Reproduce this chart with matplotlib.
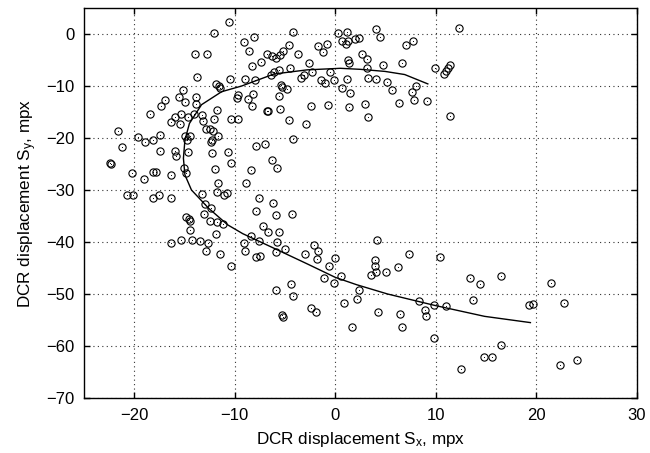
import numpy as np
import matplotlib
matplotlib.use("Agg")
import matplotlib.pyplot as plt

plt.rcParams['font.family'] = ['Liberation Sans', 'DejaVu Sans']

# measured DCR displacements (mpx)
pts = [
    (-10.6, 2.3), (-12.1, 0.2), (-13.9, -3.8), (-12.8, -3.8), (-13.7, -8.2), (-10.5, -8.6),
    (-11.9, -9.6), (-11.6, -10.0), (-11.5, -10.3),
    (-15.1, -10.7), (-15.5, -12.1), (-14.9, -13.0), (-13.8, -12.1), (-13.8, -13.4),
    (-16.9, -12.6), (-17.3, -13.8), (-18.4, -15.4), (-15.9, -16.0), (-16.3, -17.0), (-15.4, -17.4),
    (-15.3, -15.3), (-14.6, -15.9), (-14.0, -15.3), (-13.3, -15.6), (-13.2, -16.7),
    (-11.8, -14.6), (-12.1, -16.4), (-10.4, -16.3), (-9.7, -16.3),
    (-12.9, -18.3), (-12.5, -18.3), (-12.2, -18.6), (-12.3, -20.4), (-12.4, -20.8), (-11.7, -19.6),
    (-14.9, -19.7), (-14.7, -20.3), (-14.4, -19.6),
    (-21.6, -18.6), (-19.6, -19.9), (-18.9, -20.7), (-18.1, -20.4), (-17.4, -19.4),
    (-21.2, -21.7), (-17.4, -22.5), (-15.9, -22.5), (-15.8, -23.5), (-14.6, -22.6), (-12.3, -22.9),
    (-10.7, -22.6), (-10.4, -24.8),
    (-22.3, -25.0), (-22.4, -24.8), (-20.2, -26.7), (-18.1, -26.5), (-17.8, -26.5), (-19.0, -27.9),
    (-16.3, -27.1), (-15.0, -25.7), (-14.8, -26.8), (-12.0, -25.9), (-11.7, -28.7),
    (-9.7, -11.8), (-9.8, -12.4),
    (-20.7, -30.9), (-20.1, -30.9), (-18.1, -31.5), (-17.5, -31.0), (-16.3, -31.5), (-13.3, -30.8),
    (-11.8, -30.4), (-11.1, -30.9), (-10.8, -30.6),
    (-13.0, -32.7), (-12.4, -33.5), (-13.1, -34.7), (-12.5, -35.9), (-11.8, -36.2), (-11.2, -36.5),
    (-11.9, -38.5), (-14.8, -35.1), (-14.5, -35.6), (-14.4, -35.9), (-14.4, -37.6),
    (-16.3, -40.2), (-15.3, -39.7), (-14.2, -39.6), (-13.5, -39.9), (-12.7, -40.1), (-12.9, -41.7),
    (-11.5, -42.3), (-10.4, -44.6),
    (-8.1, -0.6), (-9.1, -1.6), (-8.6, -3.3), (-4.2, 0.4),
    (-4.6, -2.2), (-5.2, -3.2), (-5.5, -4.0), (-5.9, -4.6), (-6.3, -4.2), (-6.8, -3.9),
    (-1.7, -2.4), (-1.2, -3.5), (-0.8, -1.9), (-3.7, -3.8), (-7.4, -5.3), (-8.3, -6.1),
    (-4.5, -6.6), (-2.6, -5.5),
    (-5.6, -6.9), (-6.1, -7.4), (-6.4, -7.8), (-2.3, -7.4), (-3.1, -7.8), (-3.4, -8.4), (-0.5, -7.4),
    (-9.0, -8.6), (-8.0, -8.9), (-1.4, -8.9), (-1.0, -9.5), (-0.1, -8.8),
    (-5.4, -9.9), (-5.3, -10.2), (-4.8, -10.6),
    (-8.2, -11.6), (-8.7, -12.5), (-8.3, -13.8), (-5.6, -11.9),
    (0.7, -10.4), (1.5, -11.4), (1.2, -8.6),
    (-6.8, -14.8), (-6.7, -14.9), (-5.5, -14.5), (-2.4, -13.9), (-0.7, -13.6), (1.4, -14.1),
    (-4.6, -16.5), (-2.9, -17.4), (-4.2, -20.1), (-7.9, -21.6), (-7.0, -21.2),
    (-6.3, -24.2), (-5.8, -25.7), (-8.4, -26.2), (-8.9, -28.7),
    (0.3, 0.1), (1.2, 0.4), (0.7, -1.3), (1.1, -1.9), (1.3, -1.4), (2.0, -1.0), (2.4, -0.8),
    (4.0, 1.0), (4.4, -0.6), (2.7, -3.8), (3.2, -4.8), (1.3, -5.1), (1.4, -5.6), (3.2, -6.6),
    (4.7, -5.9), (3.3, -8.5), (4.0, -8.7), (3.0, -13.5), (3.3, -16.0),
    (7.0, -2.1), (7.7, -1.3), (12.3, 1.2), (6.6, -5.5), (9.9, -6.6),
    (11.4, -5.9), (11.2, -6.6), (11.0, -7.1), (10.8, -7.7),
    (5.1, -9.3), (5.6, -10.7), (8.0, -10.0), (7.6, -11.2), (7.8, -12.7), (6.3, -13.2),
    (9.1, -12.9), (11.4, -15.8),
    (-7.6, -31.5), (-6.2, -32.5), (-7.9, -34.0), (-5.9, -34.9), (-4.3, -34.6),
    (-7.2, -36.9), (-6.7, -38.1), (-5.6, -38.1), (-8.4, -38.9), (-7.6, -39.9),
    (-9.1, -40.2), (-9.0, -41.8), (-5.8, -40.0), (-5.9, -42.0), (-5.0, -41.3),
    (-7.9, -42.9), (-7.5, -42.6), (-2.1, -40.6), (-1.7, -41.7), (-1.8, -43.2), (-3.0, -42.4),
    (0.0, -43.1), (-0.6, -44.6), (-1.1, -46.9), (-0.1, -47.8), (0.6, -46.6),
    (-4.4, -48.0), (-5.9, -49.2), (-4.2, -50.4), (-2.4, -52.6), (-1.9, -53.5), (-5.3, -54.1),
    (-5.2, -54.4), (0.9, -51.8), (2.4, -49.2), (2.2, -51.0), (1.7, -56.3),
    (4.1, -39.6), (3.9, -43.4), (3.9, -44.6), (4.0, -45.8), (3.6, -46.4), (5.0, -45.8), (4.2, -53.5),
    (7.3, -42.3), (10.4, -42.9), (6.2, -44.9), (13.4, -46.9), (14.4, -48.1), (16.5, -46.5),
    (21.4, -47.9), (13.7, -51.2), (8.3, -51.4), (8.9, -53.1), (9.0, -54.2), (9.8, -52.1),
    (11.0, -52.4), (6.4, -53.8), (6.6, -56.3), (9.8, -58.5), (19.3, -52.1), (19.7, -51.9),
    (16.5, -59.9), (14.8, -62.2), (15.6, -62.2), (12.5, -64.4), (22.7, -51.7), (22.3, -63.7),
    (24.0, -62.7),
]
sx = [p[0] for p in pts]
sy = [p[1] for p in pts]

# fitted curve
curve_x = [9.2, 6.9, 4.95, 2.5, 0.5, -2.8, -6.1, -9.3, -11.3, -13.3, -14.5, -14.95, -15.1,
           -14.95, -14.3, -12.6, -10.7, -9.2, -6.1, -2.8, 0.0, 2.1, 5.2, 9.9, 14.85, 19.4]
curve_y = [-9.6, -7.8, -7.2, -6.8, -6.6, -6.9, -7.7, -10.0, -11.1, -13.6, -17.2, -20.4, -23.9,
           -27.1, -30.0, -33.5, -36.7, -38.4, -41.2, -44.2, -46.8, -48.2, -50.0, -52.2, -54.3, -55.5]

fig = plt.figure(figsize=(6.5, 4.53), dpi=100)
ax = fig.add_axes([0.129, 0.1214, 0.851, 0.861])

ax.plot(sx, sy, 'o', mfc='none', mec='black', ms=5.2, mew=0.8)
ax.plot(sx, sy, 'o', color='black', ms=0.7, mew=0)
ax.plot(curve_x, curve_y, '-', color='black', lw=1.0)

ax.set_xlim(-25, 30)
ax.set_ylim(-70, 5)
ax.set_xticks([-20, -10, 0, 10, 20, 30])
ax.set_yticks([-70, -60, -50, -40, -30, -20, -10, 0])
ax.grid(True, linestyle=(0, (1, 3)), color='#333333', lw=0.8)
ax.tick_params(direction='in', top=True, right=True, labelsize=12, length=4, width=1, pad=7)
for s in ax.spines.values():
    s.set_linewidth(1.0)

ax.set_xlabel(r'DCR displacement $\mathregular{S_x}$, mpx', fontsize=12.3, labelpad=5)
ax.set_ylabel(r'DCR displacement $\mathregular{S_y}$, mpx', fontsize=12.3, labelpad=5)

fig.savefig('out.png', dpi=100)
